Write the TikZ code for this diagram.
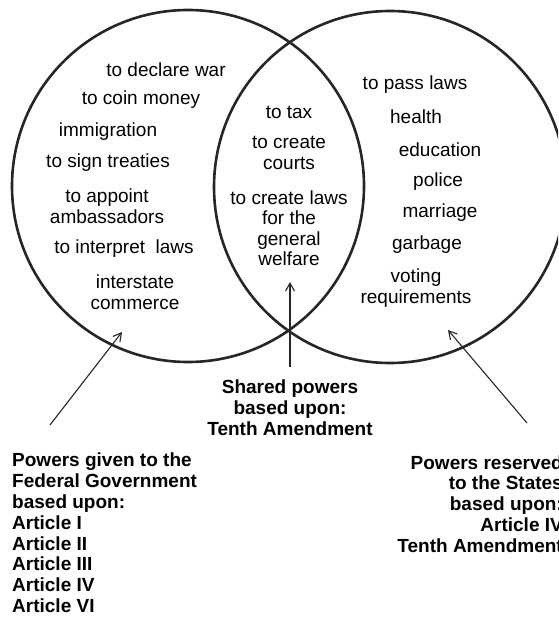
\documentclass[tikz,border=0pt]{standalone}
\usepackage{fontspec}
\setmainfont{Liberation Sans}
\usetikzlibrary{arrows.meta}
\colorlet{ink}{black!85}
\tikzset{
    ring/.style={ink,draw,circle,line width=2.6pt,inner sep=0pt,minimum size=352pt},
    item/.style={inner sep=0pt,align=center,font=\fontsize{19}{20.5}\selectfont},
    note/.style={inner sep=0pt,font=\bfseries\fontsize{19}{20.8}\selectfont},
    pointer/.style={ink,line width=1.1pt,-{Straight Barb[length=8pt,width=9pt]}}
}

\begin{document}
\begin{tikzpicture}[x=1pt,y=-1pt]
    \clip (0,0) rectangle (558,617);
    \useasboundingbox (0,0) rectangle (558,617);
    \node [ring] (fed) at (188,186) {};
    \node [ring] (st) at (390,187) {};
    \foreach \x/\y/\t [count=\i] in {
        166/70/{to declare war},
        141/100/{to coin money},
        108/132/{immigration},
        108/163/{to sign treaties},
        107/206/{to appoint\\ambassadors},
        124/249/{to interpret~ laws},
        135/292/{interstate\\commerce}} {
        \node [item] (fp\i) at (\x,\y) {\t};
    }
    \foreach \x/\y/\t [count=\i] in {
        289/112/{to tax},
        289/153/{to create\\courts},
        289/228/{to create laws\\for the\\general\\welfare}} {
        \node [item] (sp\i) at (\x,\y) {\t};
    }
    \foreach \x/\y/\t [count=\i] in {
        415/85/{to pass laws},
        416/117/{health},
        440/150/{education},
        438/182/{police},
        440/213/{marriage},
        427/245/{garbage},
        416/288/{voting\\requirements}} {
        \node [item] (rp\i) at (\x,\y) {\t};
    }
    \node [note,align=center] (shared) at (290,408) {Shared powers\\based upon:\\Tenth Amendment};
    \node [note,align=left,anchor=west] (fednote) at (12,533)
        {Powers given to the\\Federal Government\\based upon:\\Article I\\Article II\\Article III\\Article IV\\Article VI};
    \node [note,align=right,anchor=east] (stnote) at (563,504)
        {Powers reserved\\to the States\\based upon:\\Article IV\\Tenth Amendment};
    \coordinate (fedtail) at (50,425);
    \coordinate (fedtip) at (122,332);
    \coordinate (sttail) at (527,423);
    \coordinate (sttip) at (448,330);
    \coordinate (midtail) at (290,367);
    \coordinate (midtip) at (290,282);
    \draw [pointer] (fedtail) -- (fedtip);
    \draw [pointer] (sttail) -- (sttip);
    \draw [pointer] (midtail) -- (midtip);
\end{tikzpicture}
\end{document}
